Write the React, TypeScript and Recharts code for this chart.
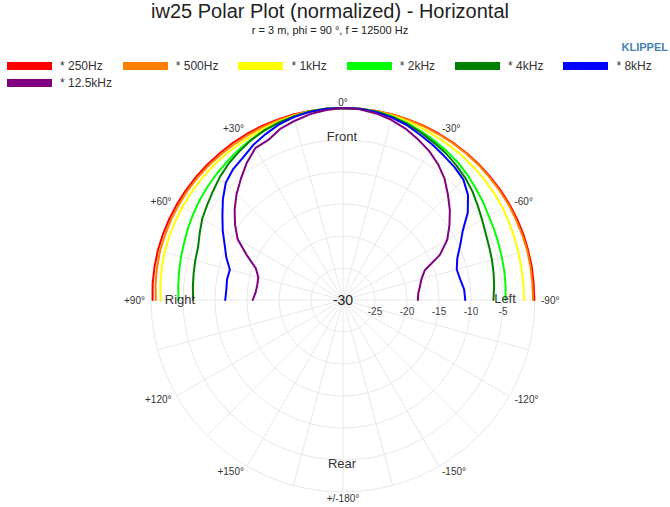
import React from "react";
import { RadarChart, Radar, PolarGrid, PolarAngleAxis, PolarRadiusAxis } from "recharts";

// angle in degrees, + is to the left, - to the right
const angles = [
  -90, -85, -80, -75, -70, -65, -60, -55, -50, -45, -40, -35, -30, -25, -20, -15, -10, -5,
  0,
  5, 10, 15, 20, 25, 30, 35, 40, 45, 50, 55, 60, 65, 70, 75, 80, 85, 90,
];

// levels in dB (normalized), same order as angles
const hz250 = [
  -0.1, -0.1, -0.05, -0.05, 0, 0, 0, 0, 0, 0, 0, 0, 0, 0, 0, 0, 0, 0,
  0,
  0, 0, 0, 0, 0, 0, 0, -0.05, -0.05, -0.05, -0.05, -0.05, -0.05, -0.05, -0.05, -0.1, -0.15, -0.25,
];
const hz500 = [
  -0.3, -0.3, -0.25, -0.2, -0.2, -0.2, -0.15, -0.15, -0.15, -0.1, -0.1, -0.1, -0.1, -0.05, -0.05, 0, 0, 0,
  0,
  0, -0.05, -0.1, -0.15, -0.2, -0.25, -0.3, -0.3, -0.3, -0.3, -0.3, -0.35, -0.35, -0.4, -0.4, -0.5, -0.6, -0.75,
];
const hz1k = [
  -1.7, -1.7, -1.7, -1.6, -1.5, -1.35, -1.2, -1.1, -1.0, -0.9, -0.8, -0.7, -0.6, -0.45, -0.3, -0.2, -0.1, 0,
  0,
  0, -0.1, -0.2, -0.35, -0.5, -0.65, -0.75, -0.8, -0.85, -0.9, -0.95, -1.0, -1.05, -1.1, -1.15, -1.25, -1.35, -1.5,
];
const hz2k = [
  -4.6, -4.5, -4.4, -4.3, -4.15, -3.95, -3.7, -3.3, -2.9, -2.45, -2.0, -1.65, -1.3, -0.95, -0.6, -0.3, -0.1, 0,
  0,
  0, -0.1, -0.3, -0.55, -0.8, -1.1, -1.45, -1.8, -2.1, -2.4, -2.7, -3.0, -3.3, -3.6, -3.8, -4.0, -4.15, -4.3,
];
const hz4k = [
  -6.5, -6.3, -6.1, -5.9, -5.7, -5.4, -4.9, -4.3, -3.6, -3.0, -2.5, -2.0, -1.6, -1.15, -0.7, -0.35, -0.1, 0,
  0,
  0, -0.1, -0.3, -0.5, -0.8, -1.2, -1.7, -2.2, -2.8, -3.5, -4.1, -4.6, -5.3, -5.9, -6.1, -6.3, -6.45, -6.6,
];
const hz8k = [
  -10.9, -11.0, -11.4, -11.6, -11.0, -9.8, -8.4, -6.2, -4.5, -3.4, -2.9, -2.5, -2.0, -1.5, -0.9, -0.5, -0.2, 0,
  0,
  0, -0.15, -0.4, -0.8, -1.4, -2.0, -2.8, -3.3, -4.1, -5.5, -7.0, -8.3, -9.6, -10.6, -11.7, -11.6, -11.7, -11.6,
];
const hz12k5 = [
  -18.3, -18.2, -17.8, -17.3, -16.4, -13.3, -11.2, -9.7, -8.2, -6.8, -5.3, -4.1, -3.1, -2.3, -1.5, -0.85, -0.4, -0.1,
  0,
  -0.2, -0.5, -1.0, -1.5, -2.4, -2.6, -3.8, -5.2, -6.5, -7.9, -9.4, -11.0, -13.4, -15.5, -16.3, -16.4, -16.3, -15.9,
];

const series = [
  { key: "hz250", name: "* 250Hz", color: "#ff0000", values: hz250 },
  { key: "hz500", name: "* 500Hz", color: "#ff8000", values: hz500 },
  { key: "hz1k", name: "* 1kHz", color: "#ffff00", values: hz1k },
  { key: "hz2k", name: "* 2kHz", color: "#00ff00", values: hz2k },
  { key: "hz4k", name: "* 4kHz", color: "#008000", values: hz4k },
  { key: "hz8k", name: "* 8kHz", color: "#0000ff", values: hz8k },
  { key: "hz12k5", name: "* 12.5kHz", color: "#800080", values: hz12k5 },
];

const radiusTicks = [-30, -25, -20, -15, -10, -5, 0];
const angleTicks = [-180, -150, -120, -90, -60, -30, 0, 30, 60, 90, 120, 150, 180];

// Radar always closes its path, so go -90 -> +90 and then back the same way;
// the return trip lies on top of the first one and nothing crosses the middle
const order = angles.map((_, i) => i).concat(angles.map((_, i) => angles.length - 1 - i));
const rows = order.map((i) => {
  const row: any = { angle: angles[i] };
  series.forEach((s) => (row[s.key] = s.values[i]));
  return row;
});

const gridAngles = Array.from({ length: 24 }, (_, i) => i * 15);

const FONT = "Arial, 'Liberation Sans', sans-serif";

const angleLabel = (v: number) => {
  if (v === 0) return "0°";
  if (v === -180) return "+/-180°";
  if (v === 180) return "";
  return v > 0 ? `+${v}°` : `${v}°`;
};

const AngleTick = (props: any) => {
  const { x, y, textAnchor, payload } = props;
  const txt = angleLabel(payload.value);
  if (!txt) return <g />;
  return (
    <text x={x} y={y} textAnchor={textAnchor} dominantBaseline="central" fontSize={10} fill="#333" fontFamily={FONT}>
      {txt}
    </text>
  );
};

const RadiusTick = (props: any) => {
  const { x, y, payload } = props;
  if (payload.value === 0) return <g />;
  if (payload.value === -30) {
    return (
      <text x={x} y={y} textAnchor="middle" dominantBaseline="central" fontSize={14} fill="#222" fontFamily={FONT}>
        -30
      </text>
    );
  }
  return (
    <text x={x} y={y + 11} textAnchor="middle" dominantBaseline="central" fontSize={10} fill="#444" fontFamily={FONT}>
      {payload.value}
    </text>
  );
};

const note = (text: string, x: number, y: number) => (
  <div
    style={{
      position: "absolute",
      left: x,
      top: y,
      transform: "translate(-50%, -50%)",
      fontSize: 13,
      color: "#333",
      whiteSpace: "nowrap",
    }}
  >
    {text}
  </div>
);

export default function App() {
  return (
    <div style={{ position: "absolute", left: 0, top: 0, width: 670, height: 507, background: "#fff", fontFamily: FONT, overflow: "hidden" }}>
      <div style={{ position: "absolute", top: 0, left: 0, width: 660, textAlign: "center", fontSize: 20, color: "#222", lineHeight: "22px" }}>
        iw25 Polar Plot (normalized) - Horizontal
      </div>
      <div style={{ position: "absolute", top: 24, left: 0, width: 660, textAlign: "center", fontSize: 11, color: "#222" }}>
        r = 3 m, phi = 90 °, f = 12500 Hz
      </div>
      <div style={{ position: "absolute", top: 41, right: 2, fontSize: 11, fontWeight: "bold", color: "#4682b4" }}>KLIPPEL</div>
      <div style={{ position: "absolute", top: 57, left: 7, width: 680, display: "flex", flexWrap: "wrap" }}>
        {series.map((s) => (
          <div key={s.key} style={{ display: "flex", alignItems: "center", height: 17, marginRight: 20 }}>
            <div style={{ width: 45, height: 8, background: s.color, marginRight: 8 }} />
            <span style={{ fontSize: 12, color: "#333" }}>{s.name}</span>
          </div>
        ))}
      </div>

      <div style={{ position: "absolute", left: 0, top: 0 }}>
        <RadarChart
          width={670}
          height={507}
          data={rows}
          cx={343}
          cy={300}
          outerRadius={192}
          startAngle={-90}
          endAngle={270}
          margin={{ top: 0, right: 0, bottom: 0, left: 0 }}
        >
          <PolarGrid gridType="circle" stroke="#e8e8e8" polarAngles={gridAngles} />
          <PolarAngleAxis
            dataKey="angle"
            type="number"
            domain={[-180, 180]}
            ticks={angleTicks as any}
            tickCount={13}
            axisLine={false}
            tickLine={false}
            tickSize={6}
            tick={<AngleTick />}
          />
          <PolarRadiusAxis
            angle={0}
            type="number"
            domain={[-30, 0]}
            ticks={radiusTicks as any}
            tickCount={7}
            axisLine={false}
            tick={<RadiusTick />}
          />
          {series.map((s) => (
            <Radar
              key={s.key}
              name={s.name}
              dataKey={s.key}
              stroke={s.color}
              strokeWidth={2}
              strokeLinejoin="round"
              fill="none"
              fillOpacity={0}
              dot={false}
              isAnimationActive={false}
            />
          ))}
        </RadarChart>
      </div>

      {note("Front", 342, 136)}
      {note("Rear", 342, 463)}
      {note("Right", 180, 299)}
      {note("Left", 505, 298)}
    </div>
  );
}
